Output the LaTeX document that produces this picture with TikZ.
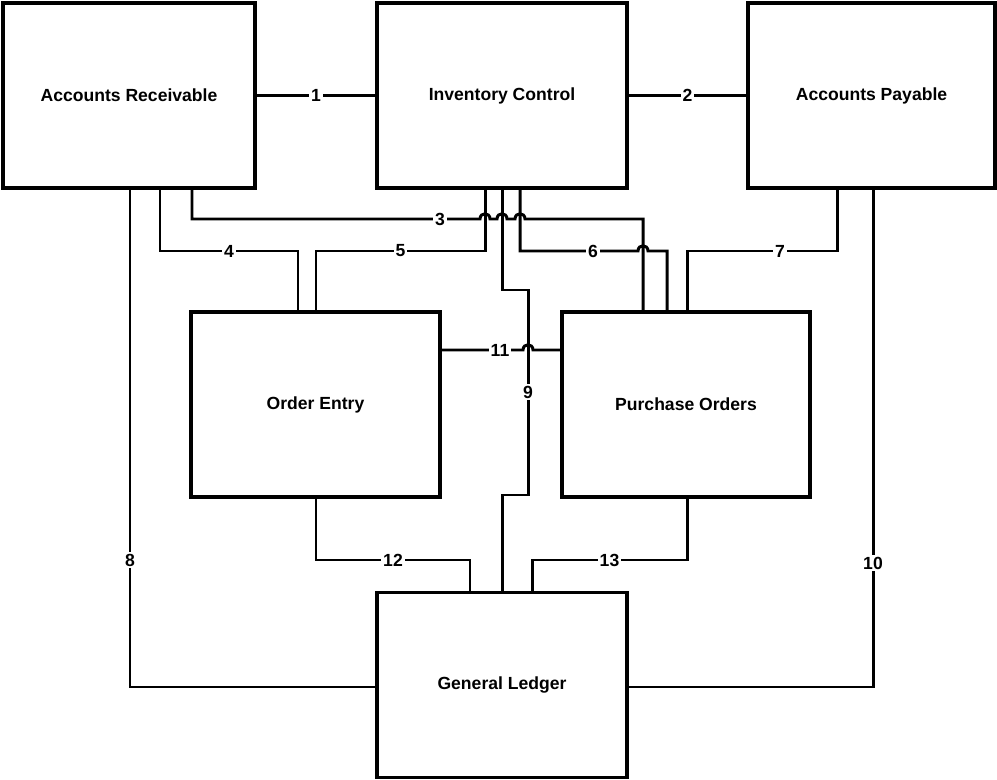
\documentclass[tikz,border=0pt]{standalone}
\usepackage{fontspec}
\setmainfont{Liberation Sans}

\begin{document}
\begin{tikzpicture}[x=0.02cm,y=-0.02cm,line width=1.7pt,
    unit/.style={draw,line width=2.2pt,minimum height=3.7cm,font=\bfseries\fontsize{10}{12}\selectfont},
    lbl/.style={fill=white,inner sep=1pt,font=\bfseries\fontsize{10}{12}\selectfont}]
    \useasboundingbox (0,0) rectangle (997,780);
    % the six modules
    \node[unit,minimum width=5.04cm] (ar) at (129,95.5) {Accounts Receivable};
    \node[unit,minimum width=5cm] (ic) at (502,95.5) {Inventory Control};
    \node[unit,minimum width=4.94cm] (ap) at (871.5,95.5) {Accounts Payable};
    \node[unit,minimum width=4.98cm] (oe) at (315.5,404.5) {Order Entry};
    \node[unit,minimum width=4.96cm] (po) at (686,404.5) {Purchase Orders};
    \node[unit,minimum width=5cm] (gl) at (502,685) {General Ledger};

    % links between modules
    \draw (ar.east) -- node[lbl] (n1) {1} (ic.west);
    \draw (ic.east) -- node[lbl] (n2) {2} (ap.west);
    \draw (ar.south -| 192,0) |- (480,219)
        .. controls (480,212) and (490,212) .. (490,219) -- (497,219)
        .. controls (497,212) and (507,212) .. (507,219) -- (515,219)
        .. controls (515,212) and (525,212) .. (525,219) -| (po.north -| 643,0);
    \node[lbl] (n3) at (440,219) {3};
    \draw (ar.south -| 160,0) |- node[lbl,pos=0.75] (n4) {4} (298,251) -- (oe.north -| 298,0);
    \draw (ic.south -| 485,0) -- (485,251) -- node[lbl] (n5) {5} (316,251) -- (oe.north -| 316,0);
    \draw (ic.south -| 520,0) |- (638,251)
        .. controls (638,244) and (648,244) .. (648,251) -| (po.north -| 667,0);
    \node[lbl] (n6) at (593,251) {6};
    \draw (ap.south -| 837,0) |- (687,251) -- (po.north -| 687,0);
    \node[lbl] (n7) at (780,251) {7};
    \draw (ar.south -| 130,0) |- (gl.west |- 0,687);
    \node[lbl] (n8) at (130,560) {8};
    \draw (ic.south -| 502,0) -- (502,290) -- (528,290) -- (528,495) -- (502,495) -- (gl.north -| 502,0);
    \node[lbl] (n9) at (528,392) {9};
    \draw (ap.south -| 873,0) |- (gl.east |- 0,687);
    \node[lbl] (n10) at (873,563) {10};
    \draw (oe.east |- 0,350) -- (523,350)
        .. controls (523,343) and (533,343) .. (533,350) -- (po.west |- 0,350);
    \node[lbl] (n11) at (500,350) {11};
    \draw (oe.south -| 316,0) |- node[lbl,pos=0.75] (n12) {12} (470,560) -- (gl.north -| 470,0);
    \draw (po.south -| 687,0) |- node[lbl,pos=0.75] (n13) {13} (532,560) -- (gl.north -| 532,0);
\end{tikzpicture}
\end{document}
